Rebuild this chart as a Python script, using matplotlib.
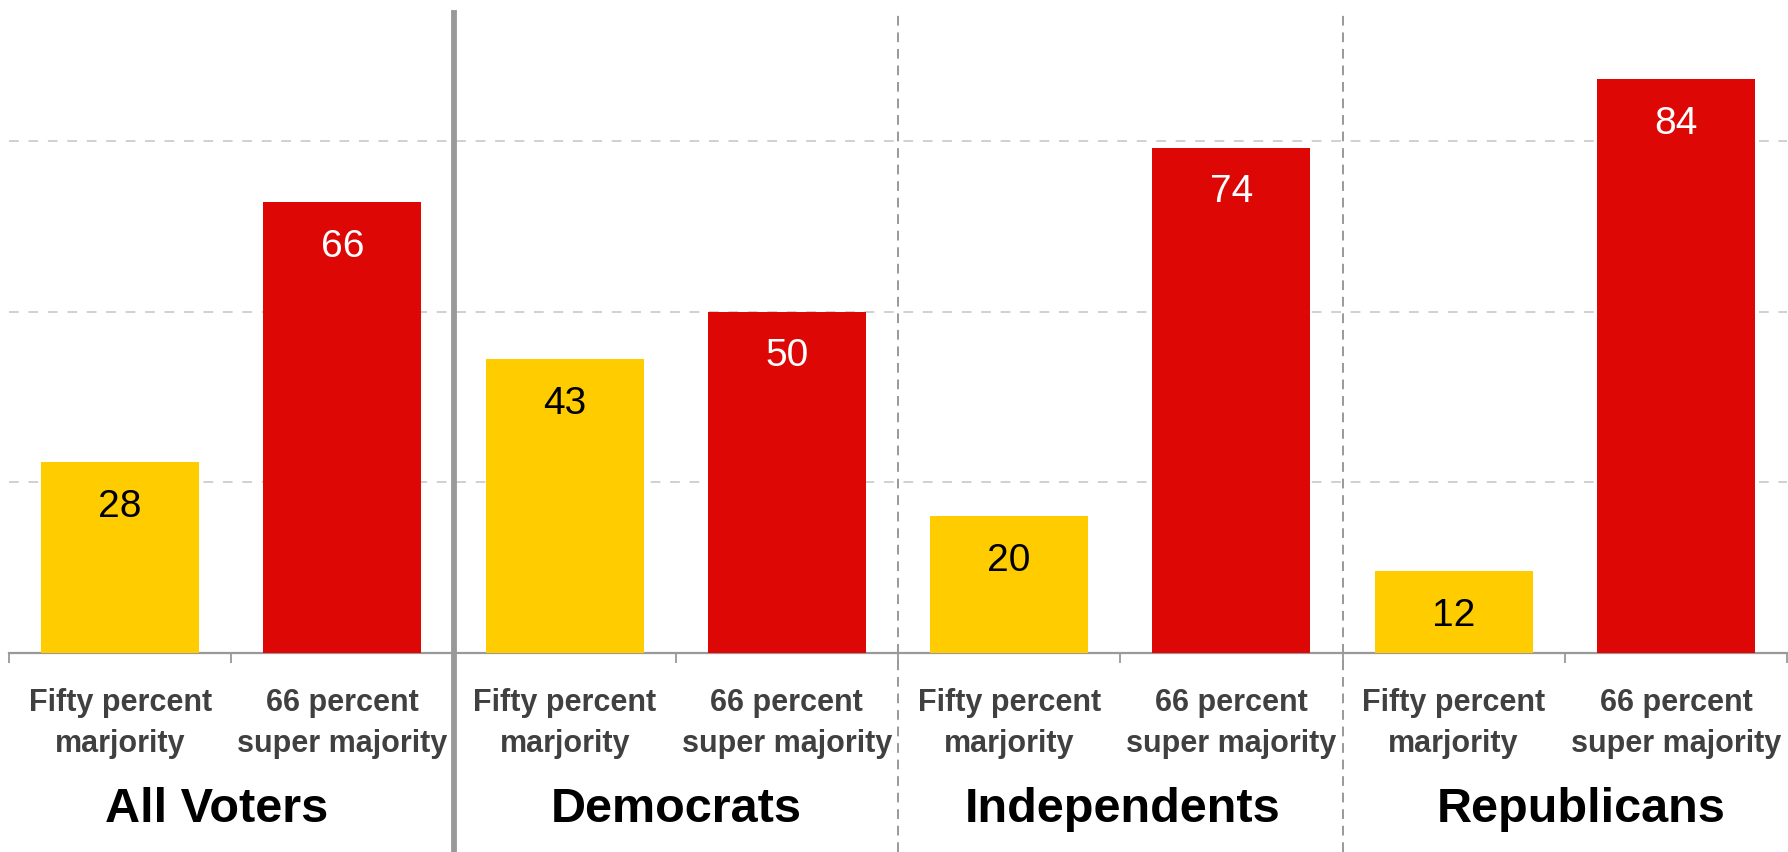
import matplotlib.pyplot as plt
from matplotlib.transforms import blended_transform_factory

groups = ["All Voters", "Democrats", "Independents", "Republicans"]
options = ["Fifty percent\nmarjority", "66 percent\nsuper majority"]
fifty = [28, 43, 20, 12]
super_majority = [66, 50, 74, 84]

# small horizontal nudges of the group titles (slot units), as in the original
title_nudge = [-0.067, 0.0, 0.01, 0.072]

yellow = "#FFCC00"
red = "#DD0806"

plt.rcParams['font.family'] = ['Liberation Sans', 'DejaVu Sans']

fig = plt.figure(figsize=(17.88, 8.53), dpi=100)
ax = fig.add_axes([9 / 1788, (853 - 654) / 853, 1778 / 1788, 642 / 853])

# positions: two bars per group
xs_fifty = [2 * i for i in range(len(groups))]
xs_super = [2 * i + 1 for i in range(len(groups))]

b1 = ax.bar(xs_fifty, fifty, width=0.71, color=yellow, zorder=3)
b2 = ax.bar(xs_super, super_majority, width=0.71, color=red, zorder=3)

for bars, vals, col in [(b1, fifty, "black"), (b2, super_majority, "white")]:
    for rect, v in zip(bars, vals):
        ax.annotate(str(v), (rect.get_x() + rect.get_width() / 2, v),
                    xytext=(0, -31.5), textcoords="offset points",
                    ha="center", va="center", fontsize=28, color=col, zorder=4)

ax.set_xlim(-0.5, 2 * len(groups) - 0.5)
ax.set_ylim(0, 94)

# grid
ax.set_yticks([25, 50, 75])
ax.yaxis.grid(True, color="#d0d0d0", linestyle=(0, (5, 5)), linewidth=1.4, zorder=0)
ax.tick_params(axis="y", left=False, labelleft=False)

# x axis: ticks at slot boundaries, labels drawn as text
ax.set_xticks([x - 0.5 for x in range(2 * len(groups) + 1)])
ax.set_xticklabels([])
ax.tick_params(axis="x", direction="out", length=7, width=1.3, color="#999999")

for s in ["top", "right", "left"]:
    ax.spines[s].set_visible(False)
ax.spines["bottom"].set_color("#999999")
ax.spines["bottom"].set_linewidth(1.6)

trans = blended_transform_factory(ax.transData, fig.transFigure)
for i, g in enumerate(groups):
    ax.text(2 * i, (853 - 723.5) / 853, options[0], transform=trans, ha="center",
            va="center", fontsize=22, fontweight="bold", color="#404040", linespacing=1.48)
    ax.text(2 * i + 1, (853 - 723.5) / 853, options[1], transform=trans, ha="center",
            va="center", fontsize=22, fontweight="bold", color="#404040", linespacing=1.48)
    ax.text(2 * i + 0.5 + title_nudge[i], (853 - 810) / 853, g, transform=trans,
            ha="center", va="center", fontsize=35, fontweight="bold", color="black")

# group separators
ax.axvline(1.5, ymin=-0.31, ymax=0.997, color="#999999", linewidth=4.2,
           clip_on=False, zorder=5)
for x in [3.5, 5.5]:
    ax.axvline(x, ymin=-0.31, ymax=0.995, color="#999999", linewidth=1.4,
               linestyle=(0, (5, 3.5)), clip_on=False, zorder=5)

fig.savefig("out.png", dpi=100)
